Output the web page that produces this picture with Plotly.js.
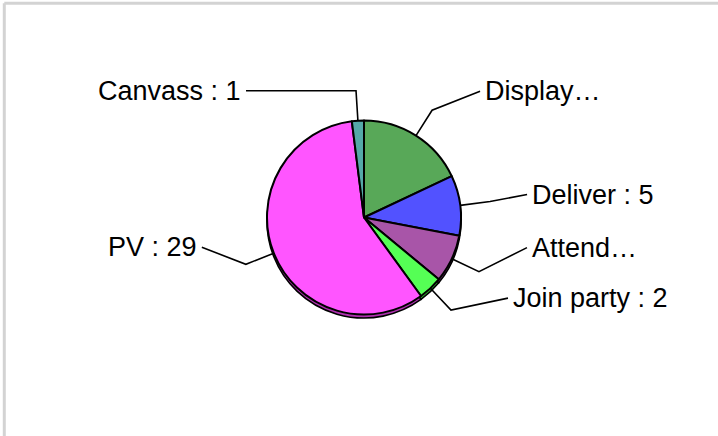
<!DOCTYPE html>
<html>
<head>
<meta charset="utf-8">
<script src="https://cdn.plot.ly/plotly-3.0.1.min.js"></script>
<style>html,body{margin:0;padding:0;background:#fff;}#chart{width:718px;height:436px;}</style>
</head>
<body>
<div id="chart"></div>
<script>
// ---- data ----
var categories = ['Display…', 'Deliver', 'Attend…', 'Join party', 'PV', 'Canvass'];
var values = [9, 5, 4, 2, 29, 1];
var sliceColors = ['#58a858', '#5252ff', '#a855a8', '#55ff55', '#ff55ff', '#55a8a8'];
var shadowColors = ['#3a7a3a', '#3030b0', '#7a307a', '#30b030', '#b030b0', '#307a7a'];

// ---- layout constants (pixels) ----
var W = 718, H = 436;
var CX = 364, CY = 217.5, R = 97;     // pie centre and radius
var ELBOW = 1.31;                     // elbow radius factor
// offset from the elbow to the end of each leader line (layout only)
var labelOffsets = [[48, -19], [37, -7], [48, -24], [57, -12], [-44, -17], [-110, 0]];
var GAP = 5;

function labelText(i) {
  var c = categories[i];
  return c.slice(-1) === '…' ? c : c + ' : ' + values[i];
}

var total = values.reduce(function (a, b) { return a + b; }, 0);
var shapes = [], annotations = [];
var cum = 0;
for (var i = 0; i < values.length; i++) {
  var mid = (cum + values[i] / 2) / total * 2 * Math.PI;
  cum += values[i];
  var sx = CX + R * Math.sin(mid), sy = CY - R * Math.cos(mid);
  var ex = CX + R * ELBOW * Math.sin(mid), ey = CY - R * ELBOW * Math.cos(mid);
  var lx = ex + labelOffsets[i][0], ly = ey + labelOffsets[i][1];
  shapes.push({
    type: 'path', xref: 'x', yref: 'y',
    path: 'M' + sx + ',' + sy + ' L' + ex + ',' + ey + ' L' + lx + ',' + ly,
    line: {color: '#000', width: 1.6}
  });
  var right = lx > CX;
  annotations.push({
    xref: 'x', yref: 'y', x: right ? lx + GAP : lx - GAP, y: ly,
    text: labelText(i), showarrow: false,
    xanchor: right ? 'left' : 'right', yanchor: 'middle',
    borderpad: 0, borderwidth: 0,
    font: {family: 'Liberation Sans, Arial, sans-serif', size: 27, color: '#000'}
  });
}

// frame
shapes.push({type: 'line', xref: 'x', yref: 'y', x0: 4.3, y0: 3.3, x1: 730, y1: 3.3, line: {color: '#d3d3d3', width: 3}});
shapes.push({type: 'line', xref: 'x', yref: 'y', x0: 4.3, y0: 3.3, x1: 4.3, y1: 450, line: {color: '#d3d3d3', width: 3}});

var dom = {
  x: [(CX - R) / W, (CX + R) / W],
  y: [(H - CY - R) / H, (H - CY + R) / H]
};
var SH = 3.5;
var shadow = {
  type: 'pie', labels: categories, values: values, sort: false, direction: 'clockwise', rotation: 0,
  textinfo: 'none', hoverinfo: 'skip', showlegend: false,
  marker: {colors: shadowColors, line: {color: '#000', width: 1.6}},
  domain: {x: dom.x, y: [dom.y[0] - SH / H, dom.y[1] - SH / H]}
};
var pie = {
  type: 'pie', labels: categories, values: values, sort: false, direction: 'clockwise', rotation: 0,
  textinfo: 'none', showlegend: false,
  marker: {colors: sliceColors, line: {color: '#000', width: 2}},
  domain: dom
};

var layout = {
  width: W, height: H, margin: {l: 0, r: 0, t: 0, b: 0},
  paper_bgcolor: '#fff', plot_bgcolor: 'rgba(0,0,0,0)',
  showlegend: false,
  xaxis: {range: [0, W], visible: false, fixedrange: true},
  yaxis: {range: [H, 0], visible: false, fixedrange: true},
  shapes: shapes, annotations: annotations
};
Plotly.newPlot('chart', [shadow, pie], layout, {displayModeBar: false, staticPlot: true});
</script>
</body>
</html>
